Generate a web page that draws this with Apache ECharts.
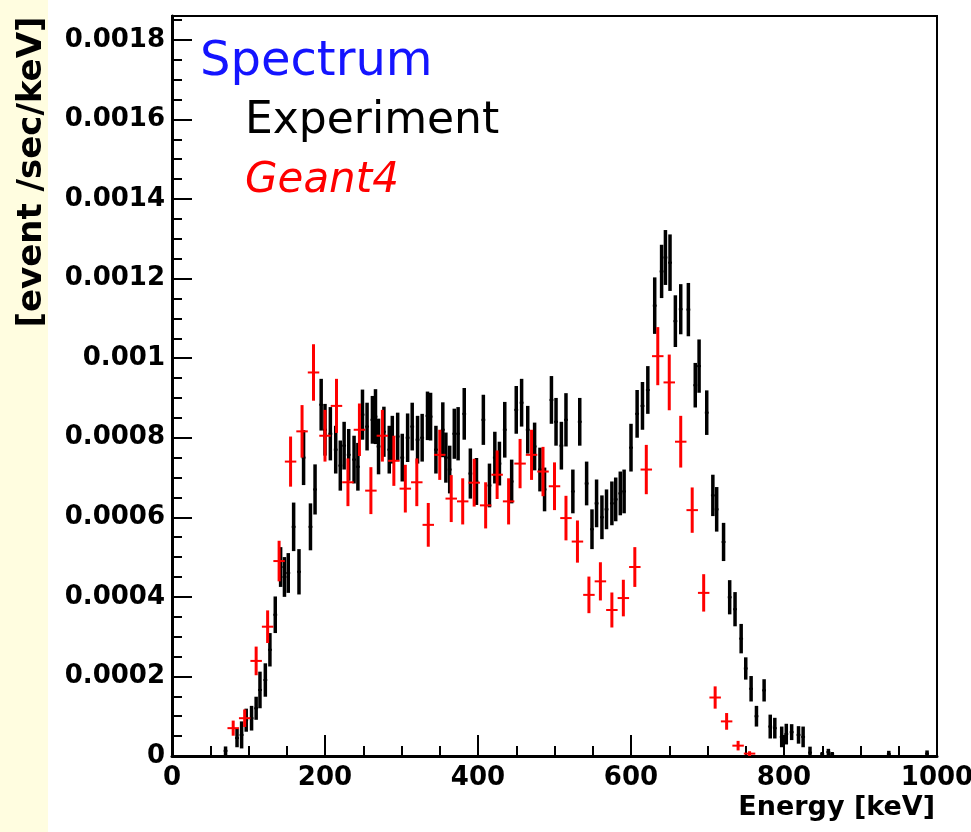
<!DOCTYPE html>
<html><head><meta charset="utf-8">
<script src="https://cdn.jsdelivr.net/npm/echarts@6/dist/echarts.min.js"></script>
<style>html,body{margin:0;padding:0;background:#fff}#c{width:971px;height:832px}</style>
</head><body><div id="c"></div>
<script>
// ---- Experiment (black) ----
const expEnergy = [
  70,85,91,97,104,110,115,122,128,135,
  142,147,152,159,166,172,181,187,195,200,
  207,214,220,225,231,238,243,249,255,262,
  266,270,277,284,288,295,301,308,314,321,
  327,334,338,345,354,358,363,369,374,382,
  390,398,407,415,422,428,435,444,450,457,
  465,474,481,487,496,502,509,515,524,533,
  542,549,555,562,568,575,580,586,591,600,
  608,615,622,631,640,645,651,658,665,675,
  684,689,699,707,712,721,729,736,744,750,
  757,764,774,782,788,797,803,810,819,825,
  834,850,858,863,937,987];
const expRate = [
  1.3e-5,4.5e-5,5.3e-5,9.0e-5,9.5e-5,1.2e-4,1.66e-4,1.91e-4,2.67e-4,3.55e-4,
  4.75e-4,4.5e-4,4.6e-4,5.76e-4,4.63e-4,7.5e-4,5.76e-4,6.7e-4,8.83e-4,8.2e-4,
  8.1e-4,7.7e-4,7.3e-4,7.8e-4,7.57e-4,7.45e-4,7.27e-4,8.58e-4,8.28e-4,8.45e-4,
  8.53e-4,7.78e-4,8.15e-4,7.7e-4,7.95e-4,8.03e-4,7.5e-4,8.0e-4,8.28e-4,7.95e-4,
  8.0e-4,8.55e-4,8.53e-4,7.7e-4,8.2e-4,7.5e-4,7.2e-4,8.1e-4,8.1e-4,8.6e-4,
  7.1e-4,6.9e-4,8.45e-4,6.8e-4,7.5e-4,7.35e-4,8.2e-4,6.9e-4,8.7e-4,8.88e-4,
  8.2e-4,7.78e-4,7.2e-4,6.7e-4,8.95e-4,8.4e-4,7.8e-4,8.45e-4,6.65e-4,8.4e-4,
  6.85e-4,5.7e-4,6.35e-4,6.0e-4,6.2e-4,6.35e-4,6.45e-4,6.6e-4,6.65e-4,7.75e-4,
  8.6e-4,8.8e-4,9.2e-4,1.132e-3,1.218e-3,1.253e-3,1.24e-3,1.093e-3,1.123e-3,1.122e-3,
  9.32e-4,9.8e-4,8.63e-4,6.55e-4,6.2e-4,5.38e-4,3.99e-4,3.69e-4,2.95e-4,2.2e-4,
  1.69e-4,1.0e-4,1.65e-4,7.4e-5,7.0e-5,4.8e-5,5.5e-5,6.0e-5,5.3e-5,4.8e-5,
  8.5e-6,5e-6,1e-5,5e-6,5e-6,6e-6];
const expErr = [
  1.1e-5,2.3e-5,3.4e-5,2.9e-5,3.1e-5,2.9e-5,4.6e-5,4.2e-5,4.2e-5,4.6e-5,
  5e-5,5e-5,5e-5,6.1e-5,5.7e-5,6.9e-5,5.9e-5,6.3e-5,6.5e-5,6.5e-5,
  6.7e-5,6e-5,6.3e-5,6e-5,6.5e-5,6e-5,6e-5,6.3e-5,6e-5,6e-5,
  6.9e-5,7e-5,6.3e-5,6e-5,6e-5,6e-5,6e-5,6.1e-5,6e-5,6e-5,
  6e-5,6.1e-5,6e-5,6e-5,6.9e-5,6.3e-5,6e-5,6.3e-5,6.7e-5,6.5e-5,
  6.3e-5,5.9e-5,6.3e-5,5.5e-5,6.5e-5,5.5e-5,7e-5,5.5e-5,6e-5,6e-5,
  6e-5,6e-5,5.5e-5,5.5e-5,6e-5,6e-5,6e-5,6.7e-5,5.5e-5,6e-5,
  5.5e-5,5e-5,6e-5,5.5e-5,5e-5,5.5e-5,5.5e-5,5.5e-5,5.5e-5,6e-5,
  6e-5,6e-5,6e-5,7.1e-5,6.7e-5,6.9e-5,7.1e-5,6.5e-5,6.3e-5,6.7e-5,
  5.6e-5,6.7e-5,5.6e-5,5.2e-5,5.6e-5,4.8e-5,4.3e-5,4.3e-5,3.7e-5,2.8e-5,
  3.2e-5,2.6e-5,2.8e-5,3e-5,2.6e-5,2.6e-5,2.6e-5,2e-5,2.2e-5,2.6e-5,
  1.5e-5,5e-6,8e-6,5e-6,8e-6,8e-6];

// ---- Geant4 (red) ----
const g4Energy = [80,95,110,125,140,155,170,185,200,215,230,245,260,275,290,305,320,335,350,365,
  380,395,410,425,440,455,470,485,500,515,530,545,560,575,590,605,620,635,650,665,680,695,710,725,740,755];
const g4Rate = [7.0e-5,9.5e-5,2.39e-4,3.25e-4,4.9e-4,7.4e-4,8.16e-4,9.64e-4,8.05e-4,8.8e-4,
  6.88e-4,8.2e-4,6.67e-4,8.05e-4,7.42e-4,6.72e-4,6.88e-4,5.81e-4,7.57e-4,6.47e-4,
  6.4e-4,6.87e-4,6.3e-4,7.07e-4,6.4e-4,7.35e-4,7.57e-4,7.15e-4,6.78e-4,5.98e-4,
  5.39e-4,4.05e-4,4.39e-4,3.67e-4,3.97e-4,4.75e-4,7.2e-4,1.005e-3,9.39e-4,7.9e-4,
  6.18e-4,4.1e-4,1.47e-4,8.7e-5,2.6e-5,6e-6];
const g4Err = [1.9e-5,2.2e-5,3.6e-5,4.1e-5,5.1e-5,6.3e-5,6.6e-5,7.1e-5,6.5e-5,6.8e-5,
  6.0e-5,6.6e-5,5.9e-5,6.5e-5,6.3e-5,6.0e-5,6.0e-5,5.5e-5,6.3e-5,5.9e-5,
  5.8e-5,6.0e-5,5.8e-5,6.1e-5,5.8e-5,6.2e-5,6.3e-5,6.2e-5,6.0e-5,5.6e-5,
  5.3e-5,4.6e-5,4.8e-5,4.4e-5,4.6e-5,5.0e-5,6.2e-5,7.3e-5,7.0e-5,6.5e-5,
  5.7e-5,4.7e-5,2.8e-5,2.1e-5,1.2e-5,6e-6];

// ---- axes ----
const yTickValues = [0,0.0002,0.0004,0.0006,0.0008,0.001,0.0012,0.0014,0.0016,0.0018];
const yTickLabels = ['0','0.0002','0.0004','0.0006','0.0008','0.001','0.0012','0.0014','0.0016','0.0018'];
const xTickLabels = ['0','200','400','600','800','1000'];
const yMinorValues = [];
for (let i = 1; i <= 37; i++) { if (i % 4 !== 0) yMinorValues.push(+(i * 0.00005).toFixed(6)); }
const expBinHalf = 2.5, g4BinHalf = 7.5;
const yMax = 0.00186;

function errRender(halfW, color, lw) {
  return function (params, api) {
    const x = api.value(0), y = api.value(1), e = api.value(2);
    const top = api.coord([x, y + e]);
    const bot = api.coord([x, Math.max(0, y - e)]);
    const l = api.coord([x - halfW, y]);
    const r = api.coord([x + halfW, y]);
    return {
      type: 'group', children: [
        { type: 'line', shape: { x1: top[0], y1: top[1], x2: bot[0], y2: bot[1] }, style: { stroke: color, lineWidth: lw } },
        { type: 'line', shape: { x1: l[0], y1: l[1], x2: r[0], y2: r[1] }, style: { stroke: color, lineWidth: 2 } }
      ]
    };
  };
}

const FONT = '"DejaVu Sans", sans-serif';
const chart = echarts.init(document.getElementById('c'), null, { renderer: 'canvas' });
chart.setOption({
  animation: false,
  backgroundColor: '#ffffff',
  grid: { left: 172, right: 34, top: 16, bottom: 76, containLabel: false, outerBoundsMode: 'none',
    show: true, borderColor: '#000', borderWidth: 2, backgroundColor: 'transparent' },
  xAxis: {
    type: 'value', min: 0, max: 1000, interval: 200,
    axisLine: { show: true, lineStyle: { color: '#000', width: 3 } },
    axisTick: { show: true, inside: true, length: 21, lineStyle: { color: '#000', width: 2 } },
    minorTick: { show: true, splitNumber: 4, length: 10, lineStyle: { color: '#000', width: 2 } },
    splitLine: { show: false },
    axisLabel: { color: '#000', fontFamily: FONT, fontWeight: 'bold', fontSize: 26, margin: 9,
      formatter: function (v) { return xTickLabels[Math.round(v / 200)]; } },
    name: 'Energy [keV]', nameLocation: 'end', nameGap: -2,
    nameTextStyle: { color: '#000', fontFamily: FONT, fontWeight: 'bold', fontSize: 27, align: 'right', verticalAlign: 'top', padding: [38, 0, 0, 0] }
  },
  yAxis: [{
    type: 'value', min: 0, max: yMax, position: 'left',
    axisLine: { show: true, lineStyle: { color: '#000', width: 3 } },
    axisTick: { show: true, inside: true, length: 20, lineStyle: { color: '#000', width: 2 }, customValues: yTickValues },
    axisLabel: { customValues: yTickValues, color: '#000', fontFamily: FONT, fontWeight: 'bold', fontSize: 26, margin: 7,
      formatter: function (v) { return yTickLabels[Math.round(v / 0.0002)]; } },
    splitLine: { show: false }
  }, {
    type: 'value', min: 0, max: yMax, position: 'left', offset: 0,
    axisLine: { show: false },
    axisTick: { show: true, inside: true, length: 10, lineStyle: { color: '#000', width: 2 }, customValues: yMinorValues },
    axisLabel: { show: false },
    splitLine: { show: false }
  }],
  series: [
    {
      type: 'custom', name: 'Experiment', xAxisIndex: 0, yAxisIndex: 0,
      renderItem: errRender(expBinHalf, '#000000', 3.5),
      encode: { x: 0, y: 1 },
      data: expEnergy.map((e, i) => [e, expRate[i], expErr[i]]), z: 2
    },
    {
      type: 'custom', name: 'Geant4', xAxisIndex: 0, yAxisIndex: 0,
      renderItem: errRender(g4BinHalf, '#ff0000', 3),
      encode: { x: 0, y: 1 },
      data: g4Energy.map((e, i) => [e, g4Rate[i], g4Err[i]]), z: 3
    }
  ],
  graphic: [
    { type: 'rect', z: -10, shape: { x: 0, y: 0, width: 48, height: 832 }, style: { fill: '#fffde0' } },
    { type: 'text', x: 32, y: 172, rotation: Math.PI / 2,
      style: { text: '[event /sec/keV]', fill: '#000', font: 'bold 34px ' + FONT, textAlign: 'center', textVerticalAlign: 'middle', align: 'center', verticalAlign: 'middle' } },
    { type: 'text', x: 200, y: 63,
      style: { text: 'Spectrum', fill: '#1414ff', font: '48px ' + FONT, textAlign: 'left', textVerticalAlign: 'middle', align: 'left', verticalAlign: 'middle' } },
    { type: 'text', x: 245, y: 122,
      style: { text: 'Experiment', fill: '#000', font: '44px ' + FONT, textAlign: 'left', textVerticalAlign: 'middle', align: 'left', verticalAlign: 'middle' } },
    { type: 'text', x: 245, y: 181,
      style: { text: 'Geant4', fill: '#ff0000', font: 'italic 42px ' + FONT, textAlign: 'left', textVerticalAlign: 'middle', align: 'left', verticalAlign: 'middle' } }
  ]
});
</script>
</body></html>
